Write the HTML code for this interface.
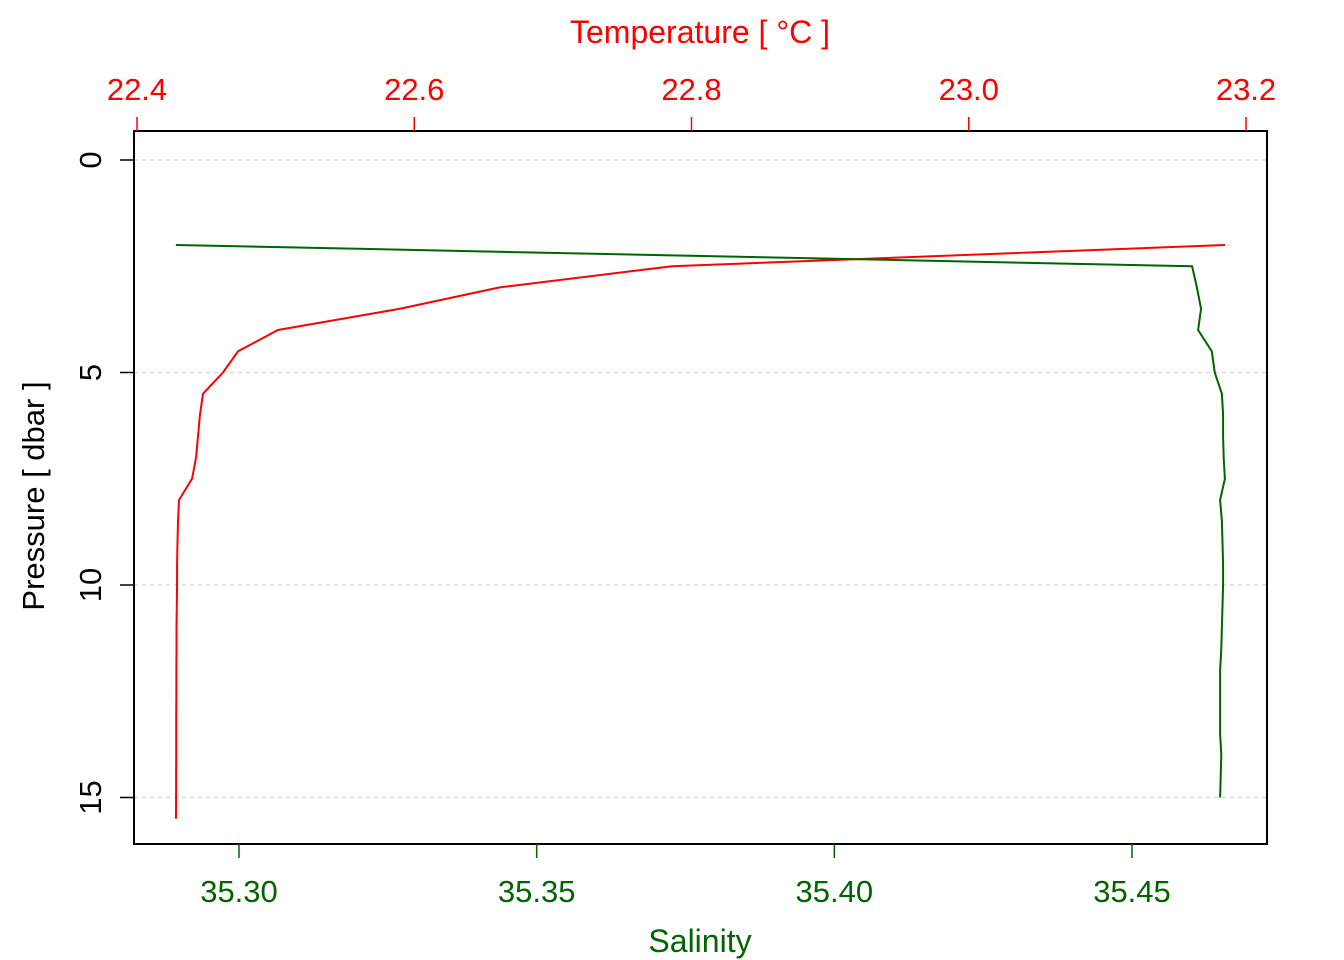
<!DOCTYPE html>
<html><head><meta charset="utf-8"><style>body{margin:0;background:#fff}svg{display:block;font-family:"Liberation Sans",sans-serif}</style></head>
<body>
<svg id="chart" width="1344" height="960" viewBox="0 0 1344 960"></svg>
<script>
const pressure = [2.0,2.5,3.0,3.5,4.0,4.5,5.0,5.5,6.0,6.5,7.0,7.5,8.0,8.5,9.0,9.5,10.0,10.5,11.0,11.5,12.0,12.5,13.0,13.5,14.0,14.5,15.0,15.5];
const temperature = [23.1849,22.7859,22.6611,22.5897,22.5017,22.4729,22.4620,22.4476,22.4454,22.4440,22.4426,22.4397,22.4303,22.4296,22.4292,22.4289,22.4289,22.4287,22.4285,22.4285,22.4284,22.4284,22.4283,22.4283,22.4283,22.4282,22.4282,22.4281];
const salPressure = [2.0,2.5,3.0,3.5,4.0,4.5,5.0,5.5,6.0,6.5,7.0,7.5,8.0,8.5,9.0,9.5,10.0,10.5,11.0,11.5,12.0,12.5,13.0,13.5,14.0,14.5,15.0];
const salinity = [35.2894,35.4601,35.4609,35.4616,35.4611,35.4634,35.4639,35.4651,35.4653,35.4653,35.4654,35.4656,35.4648,35.4651,35.4652,35.4653,35.4653,35.4652,35.4651,35.4650,35.4648,35.4648,35.4648,35.4648,35.4650,35.4649,35.4648];
const tempTicks = [22.4,22.6,22.8,23.0,23.2];
const salTicks = [35.30,35.35,35.40,35.45];
const presTicks = [0,5,10,15];

const NS="http://www.w3.org/2000/svg", svg=document.getElementById('chart');
const box={x0:134,x1:1267,y0:131,y1:844};
const yP=p=>160+p*42.5;
const xT=t=>137+(t-22.4)*1386.25;
const xS=s=>239+(s-35.30)*5953.33;
function mk(tag,attrs,parent){const e=document.createElementNS(NS,tag);for(const k in attrs)e.setAttribute(k,attrs[k]);(parent||svg).appendChild(e);return e;}
function txt(str,attrs){const e=mk('text',attrs);e.textContent=str;return e;}

presTicks.forEach(p=>{const l=mk('line',{x1:box.x0,x2:box.x1,y1:yP(p),y2:yP(p),stroke:'#d3d3d3','stroke-width':1.3,'stroke-dasharray':'4,4'});

});

const tl=mk('polyline',{points:pressure.map((p,i)=>xT(temperature[i])+','+yP(p)).join(' '),fill:'none',stroke:'#ff0000','stroke-width':2});


const sl=mk('polyline',{points:salPressure.map((p,i)=>xS(salinity[i])+','+yP(p)).join(' '),fill:'none',stroke:'#006400','stroke-width':2});



const b=mk('rect',{x:box.x0,y:box.y0,width:box.x1-box.x0,height:box.y1-box.y0,fill:'none',stroke:'#000','stroke-width':2});



tempTicks.forEach(t=>{const x=xT(t);
const l=mk('line',{x1:x,x2:x,y1:box.y0,y2:box.y0-14,stroke:'#ff0000','stroke-width':1.5});


const e=txt(t.toFixed(1),{x:x,y:100,'text-anchor':'middle','font-size':31,fill:'#ff0000'});

});
salTicks.forEach(s=>{const x=xS(s);
const l=mk('line',{x1:x,x2:x,y1:box.y1,y2:box.y1+14,stroke:'#006400','stroke-width':1.5});


const e=txt(s.toFixed(2),{x:x,y:902,'text-anchor':'middle','font-size':31,fill:'#006400'});

});
presTicks.forEach(p=>{const y=yP(p);
const l=mk('line',{x1:box.x0,x2:box.x0-14,y1:y,y2:y,stroke:'#000','stroke-width':1.5});


const e=txt(String(p),{x:0,y:0,'text-anchor':'middle','font-size':31,fill:'#000',transform:`translate(101,${y}) rotate(-90)`});

});

const t1=txt('Temperature [ °C ]',{x:700,y:43,'text-anchor':'middle','font-size':32,fill:'#ff0000'});


const t2=txt('Salinity',{x:700,y:952,'text-anchor':'middle','font-size':32,fill:'#006400'});


const t3=txt('Pressure [ dbar ]',{x:0,y:0,'text-anchor':'middle','font-size':31,fill:'#000',transform:'translate(44,496) rotate(-90)'});


</script>
</body></html>
